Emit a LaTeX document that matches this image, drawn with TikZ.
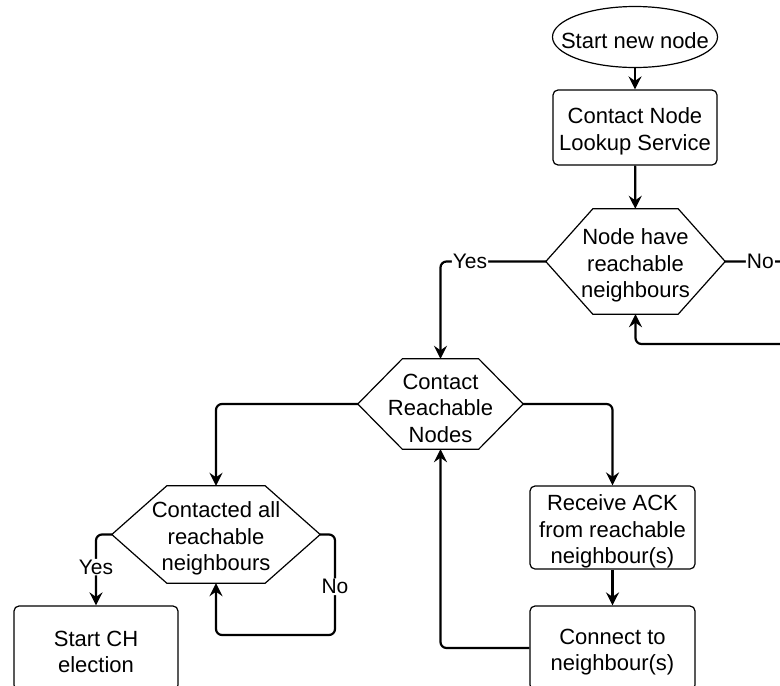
\documentclass[tikz,border=0pt]{standalone}
\usepackage{fontspec}
\setmainfont{Liberation Sans}
\usetikzlibrary{arrows.meta,shapes.geometric}
\newcommand\hexpath[2]{\draw[line width=1.2pt] (#1.west) -- ([xshift=#2]#1.north west) -- ([xshift=-#2]#1.north east) -- (#1.east) -- ([xshift=-#2]#1.south east) -- ([xshift=#2]#1.south west) -- cycle;}
\begin{document}
\begin{tikzpicture}[x=1pt,y=-1pt,
  every node/.style={font=\fontsize{22}{26.5}\selectfont, align=center, inner sep=0pt},
  txt/.style={label={[yshift=-4pt]center:{#1}}},
  box/.style={draw, rounded corners=5pt, line width=1.2pt, minimum width=164pt, minimum height=#1},
  hexa/.style n args={2}{minimum width=#1, minimum height=#2},
  conn/.style={line width=2.2pt, rounded corners=6pt, -{Stealth[length=13pt,width=13pt,inset=4.5pt]}},
  lbl/.style={fill=white, font=\fontsize{21}{24}\selectfont, inner sep=1pt}
]
\clip (0,0) rectangle (780,686);
\fill[white] (0,0) rectangle (780,686);

\node[ellipse, draw, line width=1.2pt, minimum width=165pt, minimum height=61pt, inner sep=0pt, txt={Start new node}] (start) at (635,37) {};
\node[box=75pt, txt={Contact Node\\Lookup Service}] (lookup) at (635,127.5) {};
\node[hexa={179pt}{105pt}, txt={Node have\\reachable\\neighbours}] (hex1) at (635.5,261.5) {};
\hexpath{hex1}{47pt}
\node[hexa={165pt}{90pt}, txt={Contact\\Reachable\\Nodes}] (hex2) at (440.5,404) {};
\hexpath{hex2}{44.5pt}
\node[hexa={208pt}{97pt}, txt={Contacted all\\reachable\\neighbours}] (hex3) at (216,534.5) {};
\hexpath{hex3}{55pt}
\node[box=83pt, minimum width=165pt, txt={Receive ACK\\from reachable\\neighbour(s)}] (recv) at (612.5,527.5) {};
\node[box=84pt, minimum width=165pt, txt={Connect to\\neighbour(s)}] (connbox) at (612.5,648) {};
\node[box=84pt, txt={Start CH\\election}] (startch) at (96,648) {};

\coordinate (noR) at (800,261.5);
\coordinate (noB) at (800,344);
\coordinate (n3a) at (335,534.5);
\coordinate (n3b) at (335,635);

\draw[conn] (start) -- (lookup);
\draw[conn] (lookup) -- (hex1);
\draw[conn] (hex1.west) -| node[lbl, pos=0.36] {Yes} (hex2.north);
\draw[conn] (hex1.east) -- node[lbl, pos=0.47] {No} (noR) -- (noB) -| (hex1.south);
\draw[conn] (hex2.west) -| (hex3.north);
\draw[conn] (hex2.east) -| (recv.north);
\draw[conn] (hex3.west) -| node[lbl, pos=0.73] {Yes} (startch.north);
\draw[conn] (hex3.east) -- (n3a) -- node[lbl, pos=0.52] {No} (n3b) -| (hex3.south);
\draw[conn] (recv) -- (connbox);
\draw[conn] (connbox.west) -| (hex2.south);
\end{tikzpicture}
\end{document}
